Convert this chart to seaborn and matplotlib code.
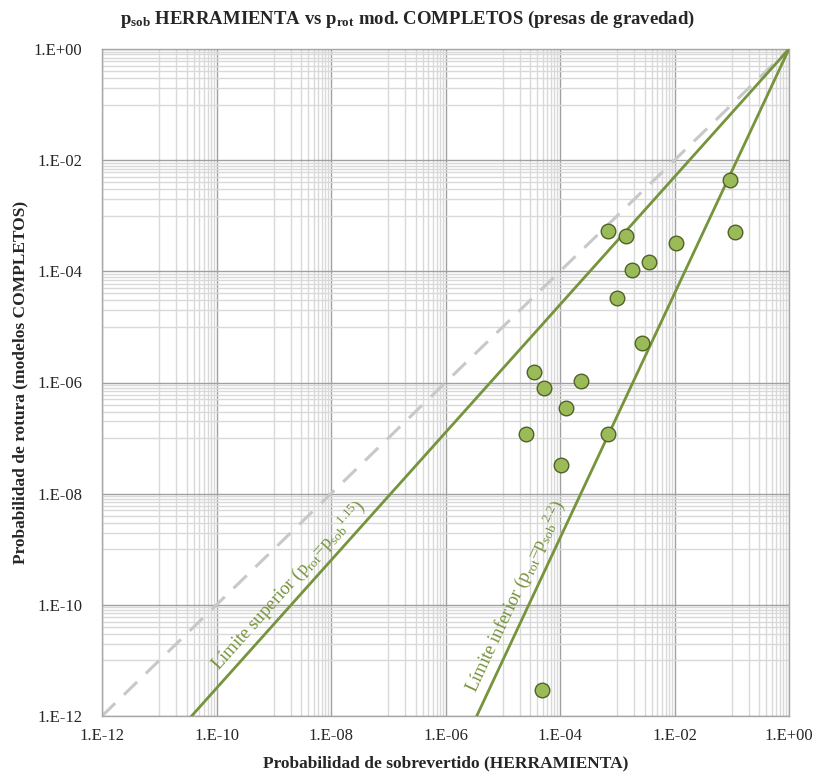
import numpy as np
import pandas as pd
import matplotlib
matplotlib.use("Agg")
import matplotlib.pyplot as plt
import seaborn as sns
from matplotlib.ticker import FixedLocator, FixedFormatter, NullFormatter

# Probabilidades por presa: sobrevertido (herramienta) y rotura (modelos completos)
p_sob = [2.5e-5, 3.5e-5, 5.2e-5, 1.04e-4, 1.29e-4, 2.3e-4, 6.8e-4, 6.9e-4,
         9.9e-4, 1.42e-3, 1.79e-3, 2.7e-3, 3.6e-3, 1.05e-2, 9.2e-2, 0.112, 4.8e-5]
p_rot = [1.2e-7, 1.55e-6, 8.0e-7, 3.3e-8, 3.5e-7, 1.05e-6, 5.4e-4, 1.17e-7,
         3.35e-5, 4.4e-4, 1.07e-4, 5.2e-6, 1.45e-4, 3.2e-4, 4.45e-3, 5.1e-4, 2.9e-12]

# Exponentes de las curvas límite p_rot = p_sob^k
exp_sup = 1.15
exp_inf = 2.2

# Décadas con etiqueta
major_exps = [-12, -10, -8, -6, -4, -2, 0]
tick_labels = [f"1.E{e:+03d}" for e in major_exps]

sns.set_style("white")
plt.rcParams["font.family"] = ["Liberation Serif", "DejaVu Serif"]
plt.rcParams["mathtext.fontset"] = "custom"
plt.rcParams["mathtext.rm"] = "Liberation Serif"
plt.rcParams["mathtext.it"] = "Liberation Serif:italic"
plt.rcParams["mathtext.bf"] = "Liberation Serif:bold"

GREEN = "#77933C"
FILL = "#9BBB59"
EDGE = "#4F6228"

fig = plt.figure(figsize=(8.16, 7.76), dpi=100)
ax = fig.add_axes([102 / 816, 1 - 716 / 776, 687 / 816, 667 / 776])
ax.set_xscale("log")
ax.set_yscale("log")
lo, hi = 10.0 ** major_exps[0], 10.0 ** major_exps[-1]
ax.set_xlim(lo, hi)
ax.set_ylim(lo, hi)

# Rejilla: décadas principales cada dos órdenes y secundarias en la década superior
majors = [10.0 ** e for e in major_exps]
minors = [10.0 ** (e + 1) * k for e in major_exps[:-1] for k in range(1, 10)]
for axis in (ax.xaxis, ax.yaxis):
    axis.set_major_locator(FixedLocator(majors))
    axis.set_major_formatter(FixedFormatter(tick_labels))
    axis.set_minor_locator(FixedLocator(minors))
    axis.set_minor_formatter(NullFormatter())
ax.grid(which="minor", color="#d9d9d9", lw=1.0, zorder=0)
ax.grid(which="major", color="#a0a0a0", lw=1.0, zorder=0)
ax.set_axisbelow(True)
ax.tick_params(which="both", length=0)
ax.tick_params(axis="x", pad=9, labelsize=12)
ax.tick_params(axis="y", pad=14, labelsize=12)
for s in ax.spines.values():
    s.set_color("#a6a6a6")
    s.set_linewidth(1.0)

# Curvas de referencia
xs = np.logspace(major_exps[0], major_exps[-1], 200)
ref = pd.DataFrame({"x": xs, "diag": xs, "sup": xs ** exp_sup, "inf": xs ** exp_inf})
sns.lineplot(data=ref, x="x", y="diag", ax=ax, color="#c8c8c8", lw=2.2,
             dashes=False, linestyle=(0, (6, 4)), zorder=2)
sns.lineplot(data=ref, x="x", y="sup", ax=ax, color=GREEN, lw=2.0, zorder=3)
sns.lineplot(data=ref, x="x", y="inf", ax=ax, color=GREEN, lw=2.0, zorder=3)

# Presas
pts = pd.DataFrame({"p_sob": p_sob, "p_rot": p_rot})
sns.scatterplot(data=pts, x="p_sob", y="p_rot", ax=ax, s=110, color=FILL,
                edgecolor=EDGE, linewidth=1.0, zorder=5, clip_on=False)

ax.set_xlim(lo, hi)
ax.set_ylim(lo, hi)


def line_angle(k):
    a = ax.transData.transform((1e-8, 1e-8 ** k))
    b = ax.transData.transform((1e-4, 1e-4 ** k))
    return np.degrees(np.arctan2(b[1] - a[1], b[0] - a[0]))


def label_on_line(x, k, text, gap=3.0):
    ang = line_angle(k)
    t = np.radians(ang)
    ax.annotate(text, xy=(x, x ** k), xytext=(-np.sin(t) * gap, np.cos(t) * gap),
                textcoords="offset points", color=GREEN, fontsize=13.5,
                rotation=ang, rotation_mode="anchor", ha="center", va="bottom",
                zorder=4)


label_on_line(10 ** -8.55, exp_sup,
              r"Límite superior (p$_{\mathregular{rot}}$=$\mathregular{{p_{sob}}^{1.15}}$)")
label_on_line(10 ** -4.53, exp_inf,
              r"Límite inferior (p$_{\mathregular{rot}}$=$\mathregular{{p_{sob}}^{2.2}}$)")

ax.set_xlabel("Probabilidad de sobrevertido (HERRAMIENTA)", fontsize=12.5,
              fontweight="bold", va="center")
ax.set_ylabel("Probabilidad de rotura (modelos COMPLETOS)", fontsize=12.5,
              fontweight="bold", va="center")
ax.xaxis.set_label_coords(0.5, (716 - 763) / 667)
ax.yaxis.set_label_coords((20 - 102) / 687, 0.5)
fig.text(0.5, 1 - 19 / 776,
         r"p$_{\mathbf{sob}}$ HERRAMIENTA vs p$_{\mathbf{rot}}$ mod. COMPLETOS (presas de gravedad)",
         ha="center", va="center", fontsize=13.5, fontweight="bold")

fig.savefig("out.png", dpi=100)
